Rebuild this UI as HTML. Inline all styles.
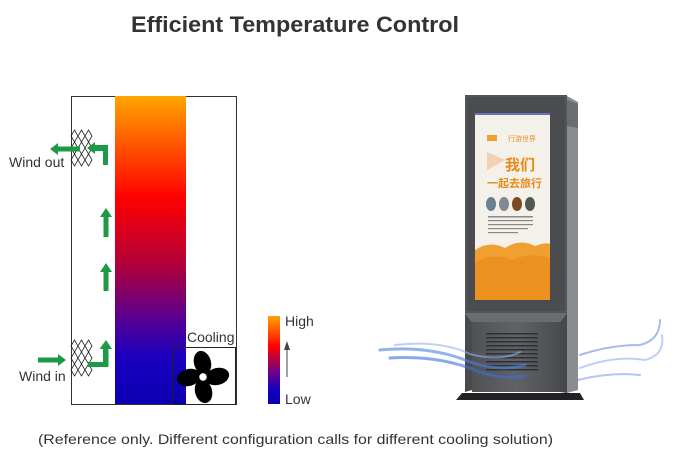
<!DOCTYPE html>
<html><head><meta charset="utf-8"><style>
html,body{margin:0;padding:0;background:#fff;}
svg{display:block;}
text{font-family:"Liberation Sans","Noto Sans CJK SC",sans-serif;}
</style></head><body>
<svg width="680" height="466" viewBox="0 0 680 466" xmlns="http://www.w3.org/2000/svg">
<defs>
<linearGradient id="heat" x1="0" y1="0" x2="0" y2="1">
<stop offset="0" stop-color="#ffa500"/>
<stop offset="0.33" stop-color="#ff0000"/>
<stop offset="0.55" stop-color="#b0003a"/>
<stop offset="0.72" stop-color="#5a0090"/>
<stop offset="0.85" stop-color="#1a00c0"/>
<stop offset="1" stop-color="#0a00b0"/>
</linearGradient>
<linearGradient id="heat2" x1="0" y1="0" x2="0" y2="1">
<stop offset="0" stop-color="#ffa500"/>
<stop offset="0.35" stop-color="#ff0000"/>
<stop offset="0.65" stop-color="#6a0090"/>
<stop offset="0.85" stop-color="#1000c0"/>
<stop offset="1" stop-color="#0a00b0"/>
</linearGradient>
<linearGradient id="base" x1="0" y1="0" x2="1" y2="0">
<stop offset="0" stop-color="#505256"/><stop offset="0.5" stop-color="#606266"/><stop offset="1" stop-color="#4a4c50"/>
</linearGradient>
<g id="mesh" fill="none" stroke="#222" stroke-width="0.8">
<path d="M3.5,0 L7,6 L3.5,12 L0,6Z M10.5,0 L14,6 L10.5,12 L7,6Z M17.5,0 L21,6 L17.5,12 L14,6Z"/>
<path transform="translate(0,12)" d="M3.5,0 L7,6 L3.5,12 L0,6Z M10.5,0 L14,6 L10.5,12 L7,6Z M17.5,0 L21,6 L17.5,12 L14,6Z"/>
<path transform="translate(0,24)" d="M3.5,0 L7,6 L3.5,12 L0,6Z M10.5,0 L14,6 L10.5,12 L7,6Z M17.5,0 L21,6 L17.5,12 L14,6Z"/>
</g>
<g id="blade">
<ellipse cx="-3" cy="-14" rx="8.5" ry="12" transform="rotate(-25 -3 -14)" fill="#000"/>
</g>
</defs>

<text x="131" y="32" font-size="22" font-weight="bold" fill="#333" textLength="328" lengthAdjust="spacingAndGlyphs">Efficient Temperature Control</text>

<rect x="71.5" y="96.5" width="165" height="308" fill="none" stroke="#333" stroke-width="1"/>
<rect x="115" y="96" width="71" height="308" fill="url(#heat)"/>
<rect x="172.5" y="347.5" width="63" height="57" fill="none" stroke="#222" stroke-width="1"/>
<g transform="translate(203,377) rotate(10)">
<use href="#blade" transform="rotate(0)"/>
<use href="#blade" transform="rotate(90)"/>
<use href="#blade" transform="rotate(180)"/>
<use href="#blade" transform="rotate(270)"/>
<circle r="5" fill="#fff" stroke="#000" stroke-width="2.5"/>
</g>
<text x="187" y="342" font-size="14" fill="#333">Cooling</text>

<use href="#mesh" x="71" y="130"/>
<use href="#mesh" x="71" y="340"/>

<g fill="#1c9a46">
<path d="M50,149 L58,143 L58,146.5 L80,146.5 L80,151.5 L58,151.5 L58,155Z"/>
<path d="M87,148 L95,142 L95,145 L108,145 L108,165 L103,165 L103,151 L95,151 L95,154Z"/>
<path d="M106,208 L112,217 L108.5,217 L108.5,237 L103.5,237 L103.5,217 L100,217Z"/>
<path d="M106,263 L112,272 L108.5,272 L108.5,291 L103.5,291 L103.5,272 L100,272Z"/>
<path d="M38,357.5 L58,357.5 L58,354 L66,360 L58,366 L58,362.5 L38,362.5Z"/>
<path d="M88,362 L103,362 L103,349 L99.5,349 L106,340 L112,349 L108.5,349 L108.5,367 L88,367Z"/>
</g>
<text x="9" y="167" font-size="14" fill="#333">Wind out</text>
<text x="19" y="381" font-size="14" fill="#333">Wind in</text>

<rect x="268" y="316" width="12" height="88" fill="url(#heat2)"/>
<text x="285" y="326" font-size="14" fill="#333">High</text>
<text x="285" y="404" font-size="14" fill="#333">Low</text>
<line x1="287" y1="347" x2="287" y2="377" stroke="#444" stroke-width="1"/>
<path d="M287,341 L290,350 L284,350Z" fill="#444"/>

<path d="M567,96 L578,102 L578,390 L567,393Z" fill="#8a8c90"/>
<path d="M567,100 L578,104 L578,128 L567,126Z" fill="#6a6c70"/>
<rect x="465" y="95" width="102" height="218" fill="#4a4c50"/>
<rect x="466" y="96" width="100" height="216" fill="none" stroke="#5c5e62"/>
<rect x="475" y="113" width="75" height="187" fill="#f4f1ea"/>
<rect x="475" y="113" width="75" height="2" fill="#6a70c0"/>
<path d="M475,250 Q490,240 505,248 Q520,238 535,246 Q545,242 550,244 L550,300 L475,300Z" fill="#f0a030"/>
<path d="M475,262 Q495,252 512,260 Q530,252 550,258 L550,300 L475,300Z" fill="#ec9020"/>
<rect x="487" y="135" width="10" height="6" fill="#f0a030"/>
<text x="508" y="141" font-size="7" fill="#e89020" font-family="Noto Sans CJK SC,sans-serif">行游世界</text>
<path d="M487,152 L505,160 L487,170Z" fill="#f2d0b0"/>
<text x="505" y="170" font-size="15" font-weight="bold" fill="#e88a18" font-family="Noto Sans CJK SC,sans-serif">我们</text>
<text x="487" y="187" font-size="11" font-weight="bold" fill="#e88a18" font-family="Noto Sans CJK SC,sans-serif">一起去旅行</text>
<ellipse cx="491" cy="204" rx="5" ry="7" fill="#6a8090"/>
<ellipse cx="504" cy="204" rx="5" ry="7" fill="#808890"/>
<ellipse cx="517" cy="204" rx="5" ry="7" fill="#7a4a20"/>
<ellipse cx="530" cy="204" rx="5" ry="7" fill="#505850"/>
<g fill="#888"><rect x="488" y="216" width="45" height="1.5"/><rect x="488" y="220" width="45" height="1.2"/><rect x="488" y="224" width="45" height="1.2"/><rect x="488" y="228" width="40" height="1.2"/><rect x="488" y="232" width="30" height="1.2"/></g>
<path d="M465,313 L567,313 L560,322 L472,322Z" fill="#6a6c70"/>
<path d="M465,313 L472,322 L472,390 L465,392Z" fill="#484a4e"/>
<rect x="472" y="322" width="88" height="70" fill="url(#base)"/>
<path d="M560,322 L567,313 L567,393 L560,392Z" fill="#46484c"/>
<g fill="#2e3034">
<rect x="486" y="333" width="52" height="1.5"/><rect x="486" y="337" width="52" height="1.5"/><rect x="486" y="341" width="52" height="1.5"/><rect x="486" y="345" width="52" height="1.5"/><rect x="486" y="349" width="52" height="1.5"/><rect x="486" y="353" width="52" height="1.5"/><rect x="486" y="357" width="52" height="1.5"/><rect x="486" y="361" width="52" height="1.5"/><rect x="486" y="365" width="52" height="1.5"/><rect x="486" y="369" width="52" height="1.5"/>
</g>
<path d="M462,393 L580,393 L584,400 L456,400Z" fill="#222"/>
<g fill="none" stroke-linecap="round">
<path d="M380,350 Q430,345 470,362 Q500,372 525,365" stroke="#4a80e0" stroke-width="3" opacity="0.6"/>
<path d="M390,358 Q440,355 480,372 Q505,380 525,376" stroke="#3a70d8" stroke-width="3" opacity="0.6"/>
<path d="M395,345 Q440,340 470,354 Q500,362 520,352" stroke="#90b0f0" stroke-width="2" opacity="0.6"/>
<path d="M580,355 Q610,345 640,345 Q660,340 660,320" stroke="#6a90e0" stroke-width="2" opacity="0.6"/>
<path d="M580,368 Q615,355 645,360 Q665,355 662,335" stroke="#90b0f0" stroke-width="2" opacity="0.6"/>
<path d="M578,380 Q610,372 640,375" stroke="#6a90e0" stroke-width="2" opacity="0.5"/>
</g>

<text x="38" y="444" font-size="14" fill="#333" textLength="515" lengthAdjust="spacingAndGlyphs">(Reference only. Different configuration calls for different cooling solution)</text>
</svg>
</body></html>
